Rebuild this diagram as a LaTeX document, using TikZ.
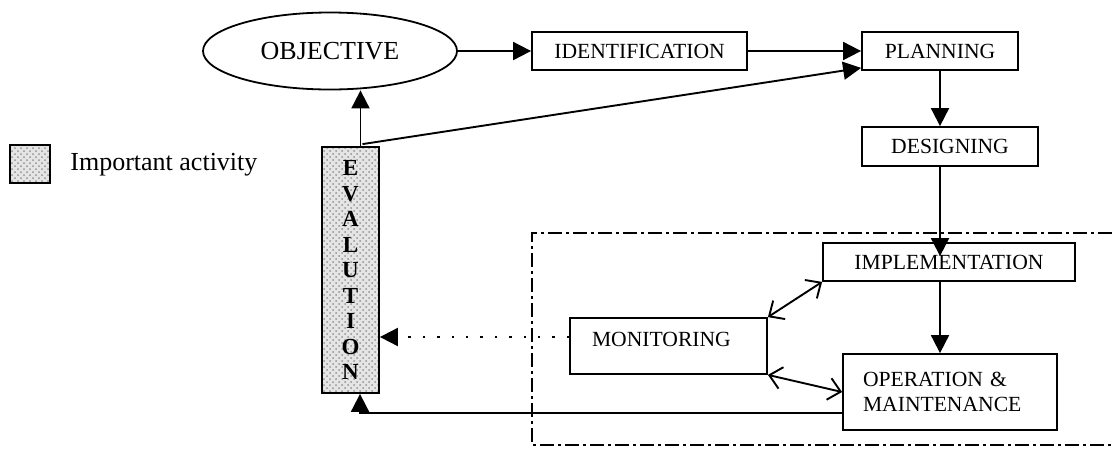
\documentclass[tikz,border=0pt]{standalone}
\usepackage{fontspec}
\setmainfont{Liberation Serif}
\usetikzlibrary{arrows.meta,shapes.geometric,calc,patterns}
\begin{document}
\begin{tikzpicture}[x=0.5pt,y=-0.5pt,
  box/.style={draw, line width=0.9pt, inner sep=0pt, font=\fontsize{10.8}{12.5}\selectfont},
  tri/.style={-{Triangle[length=9pt,width=9pt]}, line width=0.95pt},
  barb/.style={{Straight Barb[length=6pt,width=11pt]}-{Straight Barb[length=6pt,width=11pt]}, line width=0.95pt},
  dotarrow/.style={-{Triangle[length=9pt,width=9pt]}, line width=1pt, dash pattern=on 1.2pt off 6pt},
  frame/.style={line width=0.9pt, dash pattern=on 7pt off 2pt on 1.5pt off 2pt},
  speckle/.style={preaction={fill=gray!20}, pattern=crosshatch dots, pattern color=gray!85}]
\useasboundingbox (0,0) rectangle (1112,451);

% dash-dot frame
\coordinate (f1) at (1112,233);
\coordinate (f2) at (532,233);
\coordinate (f3) at (532,445);
\coordinate (f4) at (1112,445);
\draw[frame] (f1) -- (f2) -- (f3) -- (f4);

% nodes
\node[ellipse, draw, line width=0.9pt, minimum width=127pt, minimum height=38.5pt, inner sep=0pt,
      font=\fontsize{13}{15}\selectfont] (obj) at (330,51) {OBJECTIVE};
\node[box, minimum width=107.5pt, minimum height=19pt] (iden) at (639.5,51) {IDENTIFICATION};
\node[box, minimum width=78pt, minimum height=19pt] (plan) at (940,51) {PLANNING};
\node[box, minimum width=88pt, minimum height=19.5pt] (des) at (950,146.5) {DESIGNING};
\node[box, minimum width=126pt, minimum height=19pt] (impl) at (949,262) {IMPLEMENTATION};
\node[box, minimum width=98.5pt, minimum height=28pt, text width=76.5pt, inner xsep=11pt,
      align=left, text height=7pt, text depth=7pt] (mon) at (668.5,346) {MONITORING};
\node[box, minimum width=107pt, minimum height=38pt, text width=87pt, inner xsep=10pt,
      align=left] (om) at (950,392) {OPERATION \&\\MAINTENANCE};
\node[draw, line width=0.9pt, minimum width=28.5pt, minimum height=123pt, inner sep=0pt, speckle,
      align=center, font=\bfseries\fontsize{11.5}{12.75}\selectfont] (eval) at (350.5,270)
      {E\\V\\A\\L\\U\\T\\I\\O\\N};

% legend
\node[draw, line width=0.9pt, minimum width=20pt, minimum height=19pt, inner sep=0pt, speckle] (leg) at (30,164) {};
\node[anchor=base west, inner sep=0pt, font=\fontsize{13}{15}\selectfont] (legtext) at (70,170) {Important activity};

% connectors
\draw[tri] (obj) -- (iden);
\draw[tri] (iden) -- (plan);
\coordinate (evtop) at ($(eval.north)+(10,0)$);
\draw[tri] (evtop) -- (evtop |- obj.south);
\coordinate (evtop2) at ($(eval.north)+(12,-2)$);
\coordinate (planlow) at ($(plan.south west)+(0,-3)$);
\draw[tri] (evtop2) -- (planlow);
\draw[tri] (plan.south) -- (plan.south |- des.north);
\coordinate (implin) at ($(plan.south |- impl.north)+(0,14)$);
\draw[tri] (plan.south |- des.south) -- (implin);
\draw[tri] (plan.south |- impl.south) -- (plan.south |- om.north);
\draw[barb] (mon.north east) -- (impl.south west);
\draw[barb] (mon.south east) -- (om.west);
\coordinate (mdot) at ($(mon.west)+(0,-9)$);
\draw[dotarrow] (mdot) -- (mdot -| eval.east);
\coordinate (omline) at ($(om.west)+(0,21)$);
\coordinate (evbot) at ($(eval.south)+(9.5,0)$);
\draw[tri] (omline) -| (evbot);
\end{tikzpicture}
\end{document}
